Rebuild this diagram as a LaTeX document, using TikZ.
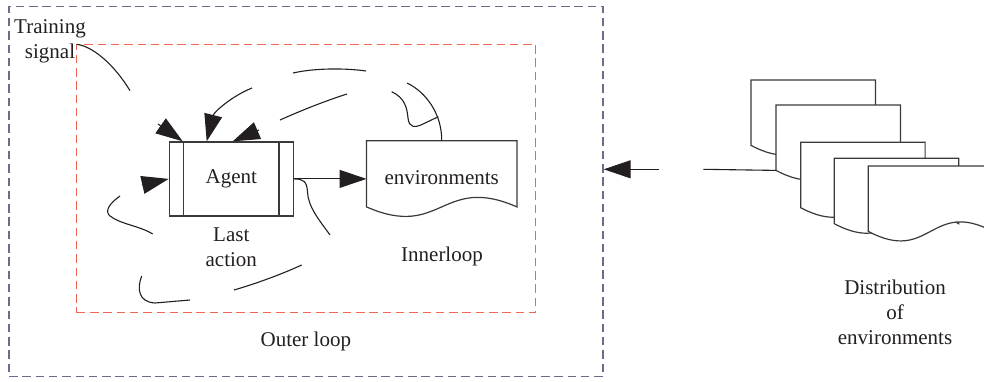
\documentclass[tikz,border=0pt]{standalone}
\usepackage{fontspec}
\setmainfont{Liberation Serif}
\usetikzlibrary{arrows.meta,positioning}

\definecolor{ink}{HTML}{231F20}
\definecolor{boxgray}{HTML}{3A3A3A}
\definecolor{outerdash}{HTML}{76668A}
\definecolor{innerdash}{HTML}{EF6652}

% document symbol: flat top, wavy bottom
\newcommand{\docshape}[1]{%
  \draw[doc line] (#1.south west) -- (#1.north west) -- (#1.north east) -- (#1.south east)
    .. controls ([yshift=33pt]#1.south) and ([yshift=-33pt]#1.south) .. (#1.south west) -- cycle;}

\begin{document}
\begin{tikzpicture}[
  x=1pt,
  y=-1pt,
  lbl/.style={font=\fontsize{21}{25}\selectfont, text=ink, align=center, inner sep=0pt},
  wire/.style={line width=1.1pt, draw=ink},
  flow/.style={wire, -{Triangle[length=27pt,width=18pt]}},
  doc line/.style={line width=1.2pt, draw=boxgray, fill=white},
  doc box/.style={inner sep=0pt, minimum width=124pt, minimum height=65pt},
  agent box/.style={lbl, draw=boxgray, line width=1.2pt, minimum width=124pt, minimum height=74pt},
  loop frame/.style={draw, line width=1.4pt, dash pattern=on 8.5pt off 4.8pt, inner sep=0pt}
]
  \path[use as bounding box] (0,0) rectangle (984,381);
  \clip (0,0) rectangle (984,381);

  % loops
  \node[loop frame, draw=outerdash, minimum width=594pt, minimum height=370pt] (outer) at (306,191.5) {};
  \node[loop frame, draw=innerdash, minimum width=459pt, minimum height=268.5pt] (inner) at (306.2,178.5) {};

  \node[agent box] (agent) at (231.3,178.9) {Agent};
  \draw[doc line] ([xshift=15pt]agent.north west) -- ([xshift=15pt]agent.south west);
  \draw[doc line] ([xshift=-15pt]agent.north east) -- ([xshift=-15pt]agent.south east);

  \node[lbl, doc box, minimum width=150pt, minimum height=0pt, text height=43pt, text depth=22.7pt,
        anchor=base] (env) at (441.7,184) {};
  \docshape{env}
  \node[lbl] (envtext) at (env.base) [anchor=base] {environments};
  \draw[flow] (agent) -- (agent -| env.west);

  \node[lbl, below=11pt of agent] (lastact) {Last\\action};
  \node[lbl] (innerlbl) at (442,256.2) {Innerloop};
  \node[lbl] (outerlbl) at (305.8,341.9) {Outer loop};
  \node[lbl, anchor=north] (train) at (50,19.3) {Training\\signal};

  % broken feedback strokes
  \draw[flow] (158,124) -- ([xshift=14pt]agent.north west);
  \draw[flow] (252,88) .. controls (232,96) and (214,112) .. ([xshift=38pt]agent.north west);
  \draw[flow] (259,130) -- ([xshift=64pt]agent.north west);
  \draw[flow] (142,185) -- (agent.west);
  \draw[wire] (76.7,44.3) .. controls (92,46) and (114,64) .. (130,90.7);
  \draw[wire] (293,73) .. controls (315,68) and (345,68) .. (366,71);
  \draw[wire] (280,120) .. controls (300,111) and (325,101) .. (347,94);
  \draw[wire] (407,83) .. controls (426,92) and (442,114) .. (env.north);
  \draw[wire] (391.7,91.7) .. controls (405,98) and (407,108) .. (408,118)
    .. controls (409,128) and (415,128) .. (423,124) -- (438.3,116.7);
  \draw[wire] (agent.east) .. controls (303,179) and (307,181) .. (307.5,192)
    .. controls (308,207) and (320,221) .. (330,235);
  \draw[wire] (120,196) .. controls (110,203) and (104,211) .. (110,216)
    .. controls (120,224) and (140,226) .. (152.7,234);
  \draw[wire] (141.7,276) .. controls (137,288) and (138,302) .. (155,303) -- (190,300);
  \draw[wire] (234,290) .. controls (258,283) and (282,274) .. (301.7,265);

  % distribution of environments
  \foreach [count=\i] \dx/\dy in {751/80, 776/105, 800.7/142.3, 834.3/158.3, 868.3/166} {
    \node[doc box, anchor=north west] (d\i) at (\dx,\dy) {};
    \docshape{d\i}
  }
  \coordinate (feed) at (659.3,169.3);
  \coordinate (feedtail) at (703.3,169.3);
  \draw[flow] (feed) -- (feed -| outer.east);
  \draw[wire] (feedtail) -- (d2.south west);
  \node[lbl, anchor=north] (distlbl) at (895,279.3) {Distribution\\of\\environments};
\end{tikzpicture}
\end{document}
